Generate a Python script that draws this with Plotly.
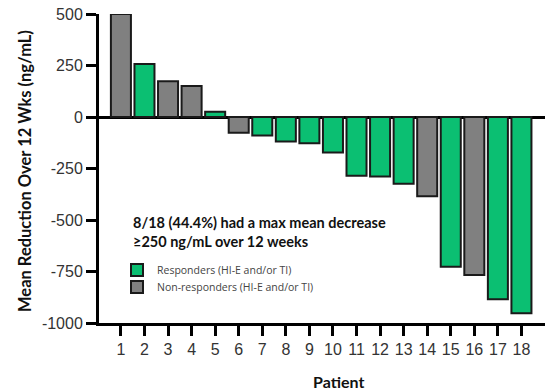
import plotly.graph_objects as go

patients = list(range(1, 19))
values = [500, 257, 174, 151, 26, -76, -90, -119, -127, -172, -285, -289, -324, -385, -727, -767, -885, -953]
responder = [False, True, False, False, True, False, True, True, True, True, True, True, True, False, True, False, True, True]

y_ticks = [500, 250, 0, -250, -500, -750, -1000]

GREEN = "#0BBF72"
GRAY = "#808080"

resp_x = [p for p, r in zip(patients, responder) if r]
resp_y = [v for v, r in zip(values, responder) if r]
non_x = [p for p, r in zip(patients, responder) if not r]
non_y = [v for v, r in zip(values, responder) if not r]

fig = go.Figure()
fig.add_trace(go.Bar(x=resp_x, y=resp_y, name="Responders (HI-E and/or TI)", legend="legend",
                     marker=dict(color=GREEN, line=dict(color="#1a1a1a", width=2))))
fig.add_trace(go.Bar(x=non_x, y=non_y, name="Non-responders (HI-E and/or TI)", legend="legend2",
                     marker=dict(color=GRAY, line=dict(color="#1a1a1a", width=2))))

PW, PH = 446, 309  # plot area size in px
L, T = 99, 14

def px_x(x):
    return (x - L) / PW

def px_y(y):
    return (T + PH - y) / PH

legend_common = dict(xanchor="left", yanchor="middle",
                     font=dict(family="Open Sans", size=10.5, color="#444"),
                     itemwidth=30, bgcolor="rgba(0,0,0,0)", borderwidth=0)

fig.update_layout(
    width=549, height=392,
    margin=dict(l=L, r=4, t=T, b=69),
    paper_bgcolor="white", plot_bgcolor="white",
    barmode="overlay", bargap=0.15,
    showlegend=True,
    legend=dict(x=px_x(117), y=px_y(270), **legend_common),
    legend2=dict(x=px_x(117), y=px_y(287), **legend_common),
    xaxis=dict(range=[0.07, 19.0], tickmode="array", tickvals=patients,
               ticktext=[str(p) for p in patients],
               showline=True, linecolor="black", linewidth=3,
               ticks="outside", ticklen=10, tickwidth=3, tickcolor="black",
               showgrid=False, zeroline=False,
               tickfont=dict(family="Liberation Sans", size=16, color="#333")),
    yaxis=dict(range=[-1000, 500], tickmode="array", tickvals=y_ticks,
               ticktext=[str(t) for t in y_ticks],
               showline=True, linecolor="black", linewidth=3,
               ticks="outside", ticklen=10, tickwidth=3, tickcolor="black",
               showgrid=False, zeroline=True, zerolinecolor="black", zerolinewidth=3,
               tickfont=dict(family="Liberation Sans", size=16, color="#333")),
    annotations=[
        dict(text="<b>8/18 (44.4%) had a max mean decrease<br>≥250 ng/mL over 12 weeks</b>",
             xref="paper", yref="paper", x=px_x(131), y=px_y(212),
             xanchor="left", yanchor="top", align="left", showarrow=False,
             font=dict(family="Lato", size=14.5, color="#111")),
        dict(text="<b>Patient</b>", xref="paper", yref="paper",
             x=px_x(338), y=px_y(381), xanchor="center", yanchor="middle",
             showarrow=False, font=dict(family="Lato", size=16, color="#111")),
        dict(text="<b>Mean Reduction Over 12 Wks (ng/mL)</b>", xref="paper", yref="paper",
             x=px_x(25), y=px_y(171), xanchor="center", yanchor="middle",
             textangle=-90, showarrow=False, font=dict(family="Lato", size=16.5, color="#111")),
    ],
)

fig.write_html("out.html", config={"displayModeBar": False},
               post_script="document.body.style.margin='0';")
